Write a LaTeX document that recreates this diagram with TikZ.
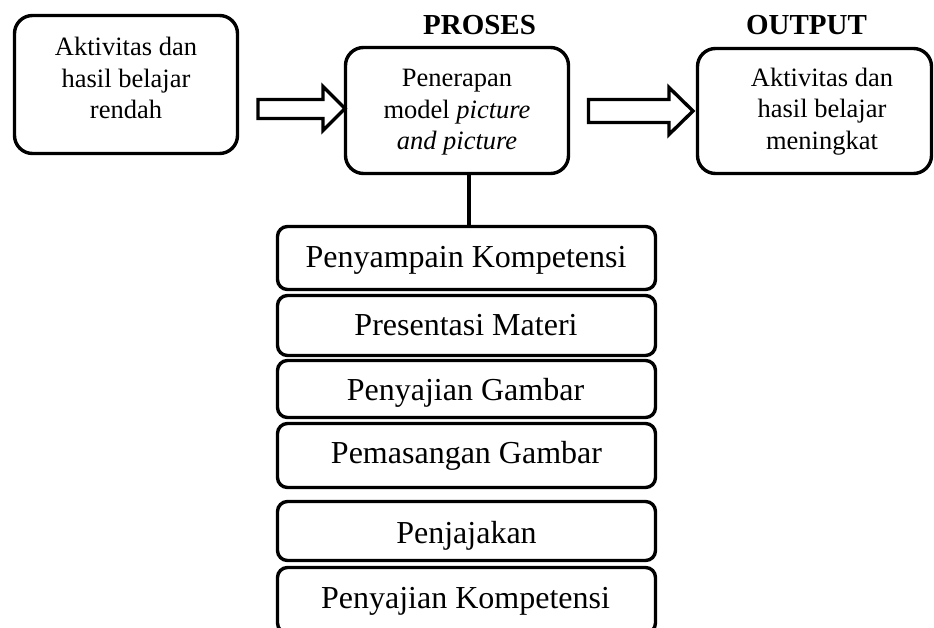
\documentclass[tikz,border=0pt]{standalone}
\usepackage{fontspec}
\setmainfont{Liberation Serif}
\begin{document}
\begin{tikzpicture}[x=1pt,y=-1pt,line width=3.4pt,line join=miter,
  bigbox/.style={draw,rectangle,rounded corners=18pt,line width=3.4pt,inner sep=0pt},
  stackbox/.style={draw,rectangle,rounded corners=10pt,line width=3.4pt,inner sep=0pt,minimum width=378pt},
  boxtxt/.style={align=center,inner sep=0pt,font=\fontsize{26.5}{31.5}\selectfont},
  stacktxt/.style={anchor=base,inner sep=0pt,font=\fontsize{32}{38}\selectfont},
  hdr/.style={anchor=base,inner sep=0pt,font=\fontsize{29}{34}\selectfont\bfseries},
  blockarrow/.style={draw,line width=3.4pt,line join=miter,fill=white}]
\useasboundingbox (0,0) rectangle (934,628);
% main boxes
\node[bigbox,minimum width=223pt,minimum height=138pt] (L) at (126,84.5) {};
\node[bigbox,minimum width=223pt,minimum height=126pt] (M) at (457,110.5) {};
\node[bigbox,minimum width=234pt,minimum height=125pt] (R) at (814.5,111) {};
\node[boxtxt] (Lt) at (126,78) {Aktivitas dan\\hasil belajar\\rendah};
\node[boxtxt] (Mt) at (457,112.5) {Penerapan\\model \textit{picture}\\\textit{and picture}};
\node[boxtxt] (Rt) at (822,111.5) {Aktivitas dan\\hasil belajar\\meningkat};
% headers
\node[hdr] (P) at (479.5,35) {PROSES};
\node[hdr] (O) at (806.5,35) {OUTPUT};
% block arrows
\draw[blockarrow] (258,99.5) -- (323,99.5) -- (323,86.5) -- (345,108.5) -- (323,130.5) -- (323,118.5) -- (258,118.5) -- cycle;
\draw[blockarrow] (588.5,99.5) -- (669,99.5) -- (669,87.5) -- (693,111) -- (669,134.5) -- (669,122.5) -- (588.5,122.5) -- cycle;
% stack
\node[stackbox,minimum height=63pt] (s1) at (466.5,258) {};
\node[stackbox,minimum height=60pt] (s2) at (466.5,325.5) {};
\node[stackbox,minimum height=57pt] (s3) at (466.5,389) {};
\node[stackbox,minimum height=64pt] (s4) at (466.5,455.5) {};
\node[stackbox,minimum height=59pt] (s5) at (466.5,531) {};
\node[stackbox,minimum height=65.5pt] (s6) at (466.5,600.25) {};
\node[stacktxt] (t1) at (466,268) {Penyampain Kompetensi};
\node[stacktxt] (t2) at (466,335) {Presentasi Materi};
\node[stacktxt] (t3) at (465.5,400) {Penyajian Gambar};
\node[stacktxt] (t4) at (466.5,463) {Pemasangan Gambar};
\node[stacktxt] (t5) at (466.5,543) {Penjajakan};
\node[stacktxt] (t6) at (465.5,608) {Penyajian Kompetensi};
% connector
\draw (M.south -| 469,0) -- (s1.north -| 469,0);
\end{tikzpicture}
\end{document}
